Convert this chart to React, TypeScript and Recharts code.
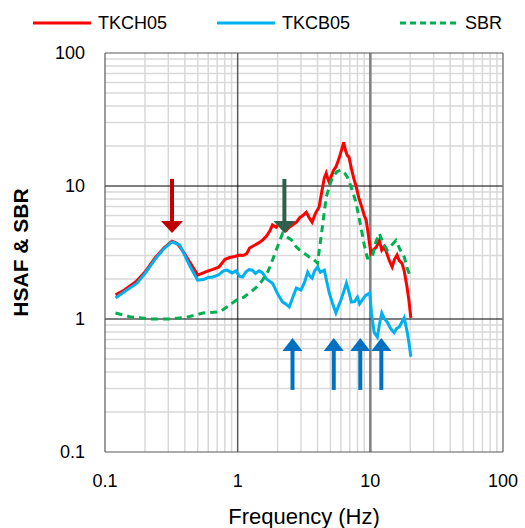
import React from 'react';
import { LineChart, Line, XAxis, YAxis, ReferenceLine, ReferenceDot } from 'recharts';

const tkch05F = [0.12,0.14,0.17,0.2,0.24,0.28,0.32,0.35,0.39,0.44,0.5,0.55,0.6,0.65,0.72,0.8,0.87,0.95,1.03,1.1,1.17,1.23,1.35,1.45,1.54,1.65,1.75,1.83,1.95,2.05,2.18,2.3,2.45,2.6,2.77,2.95,3.1,3.29,3.45,3.64,3.85,4.11,4.3,4.5,4.65,4.8,4.9,5.1,5.3,5.5,5.8,6.1,6.3,6.5,6.7,6.9,7.2,7.5,7.8,8.2,8.6,9.0,9.3,9.6,9.9,10.1,10.5,11.1,11.7,12.2,12.7,13.2,13.8,14.6,15.2,15.9,16.5,17.3,18.0,18.9,19.5,20.2];
const tkch05V = [1.52,1.65,1.9,2.25,2.9,3.45,3.85,3.7,3.2,2.63,2.14,2.22,2.3,2.36,2.45,2.8,2.9,2.95,3.03,3.0,3.1,3.42,3.6,3.75,3.92,4.2,4.6,5.1,4.9,5.2,4.83,4.6,4.9,5.1,5.35,5.8,6.0,6.36,5.8,5.35,6.2,6.94,9,11.5,12.5,11.2,10.7,12.0,13.2,13.9,16,19,21.3,18.5,17,16.5,13.5,11.4,10,8.1,7.0,6.0,5.55,4.5,3.6,3.13,3.3,3.47,3.9,3.3,3.5,3.2,2.8,2.46,2.8,3.03,2.75,2.63,2.3,1.74,1.4,1.02];

const tkcb05F = [0.12,0.14,0.174,0.2,0.246,0.28,0.32,0.366,0.4,0.44,0.5,0.55,0.6,0.65,0.72,0.78,0.83,0.91,0.97,1.03,1.09,1.15,1.22,1.29,1.36,1.45,1.54,1.65,1.83,2.0,2.18,2.3,2.45,2.6,2.77,3.0,3.2,3.37,3.5,3.64,3.8,4.0,4.2,4.5,4.7,4.9,5.2,5.5,5.75,6.0,6.3,6.6,6.9,7.2,7.6,8.0,8.3,8.7,9.2,9.9,10.2,10.7,11.3,11.8,12.2,12.8,13.4,14.2,15.1,15.8,16.5,17.3,18,19,19.6,20.2];
const tkcb05V = [1.44,1.6,1.86,2.2,2.93,3.4,3.8,3.6,3.0,2.46,1.96,1.98,2.05,2.07,2.15,2.3,2.33,2.22,2.3,2.1,2.07,2.25,2.35,2.33,2.2,2.3,2.22,2.0,1.86,1.55,1.34,1.3,1.23,1.45,1.71,1.65,1.9,2.25,2.1,2.03,2.3,2.46,2.25,2.33,1.9,1.57,1.3,1.11,1.25,1.39,1.6,1.86,1.6,1.34,1.35,1.46,1.3,1.39,1.5,1.57,1.1,0.79,0.73,0.95,1.11,1.0,0.95,0.85,0.79,0.85,0.87,0.95,1.02,0.79,0.65,0.52];

const sbrF = [0.12,0.154,0.218,0.31,0.41,0.55,0.73,0.85,0.98,1.1,1.23,1.4,1.54,1.7,1.83,2.0,2.18,2.3,2.55,2.75,2.93,3.2,3.46,3.75,4.0,4.3,4.65,5.0,5.2,5.6,6.0,6.4,6.7,7.0,7.3,7.8,8.5,9.0,9.5,10.3,11.0,11.7,12.5,13.4,14.5,15.6,16.8,18,19,20.2];
const sbrV = [1.11,1.04,1.0,1.0,1.03,1.11,1.13,1.25,1.39,1.45,1.57,1.75,1.96,2.3,2.78,3.5,4.4,4.2,3.92,3.5,3.3,3.1,2.93,2.8,2.63,4.5,8.25,10.5,11.7,12.8,13.2,12.5,11.7,10.5,9.3,7.5,4.9,3.6,2.87,2.87,3.8,4.4,3.7,3.3,3.6,3.9,3.3,2.93,2.4,2.03];

const axisTicks = [0.1, 1, 10, 100];
const minorTicks = [0.2,0.3,0.4,0.5,0.6,0.7,0.8,0.9,2,3,4,5,6,7,8,9,20,30,40,50,60,70,80,90];

// arrows: frequency, tip value, tail value
const downArrowsF = [0.32, 2.25];
const downArrowsTip = [4.43, 4.43];
const downArrowsTail = [11.3, 11.3];
const downArrowColors = ['#C00000', '#2F5F4A'];
const upArrowsF = [2.59, 5.3, 8.4, 12.1];
const upArrowTip = 0.72;
const upArrowTail = 0.293;

const toPts = (f: number[], v: number[]) => f.map((x, i) => ({ f: x, v: v[i] }));
const red = toPts(tkch05F, tkch05V);
const blue = toPts(tkcb05F, tkcb05V);
const green = toPts(sbrF, sbrV);

const FONT = '"Liberation Sans", Arial, sans-serif';

const legendItems = [
  { name: 'TKCH05', color: '#FF0000', dash: false },
  { name: 'TKCB05', color: '#00B0F0', dash: false },
  { name: 'SBR', color: '#00B050', dash: true },
];
const legendLeft = [33, 217, 400];

const LegendBlock = () => (
  <div style={{ position: 'absolute', left: 0, top: 0, width: 525, height: 40, fontFamily: FONT, fontSize: 18, color: '#000' }}>
    {legendItems.map((it, i) => (
      <div key={it.name} style={{ position: 'absolute', left: legendLeft[i], top: 12, display: 'flex', alignItems: 'center', lineHeight: '22px' }}>
        <svg width={60} height={6} style={{ marginRight: 5 }}>
          <line x1={0} y1={3} x2={58} y2={3} stroke={it.color} strokeWidth={3} strokeDasharray={it.dash ? '6 4' : undefined} />
        </svg>
        <span>{it.name}</span>
      </div>
    ))}
  </div>
);

const downHead = (color: string) => (props: any) => {
  const { cx, cy } = props;
  return <path d={`M${cx - 11},${cy - 12} L${cx + 11},${cy - 12} L${cx},${cy} Z`} fill={color} />;
};
const upHead = (props: any) => {
  const { cx, cy } = props;
  return <path d={`M${cx - 10},${cy + 13} L${cx + 10},${cy + 13} L${cx},${cy} Z`} fill="#0070C0" />;
};

export default function App() {
  return (
    <div style={{ position: 'absolute', left: 0, top: 0, width: 525, height: 528, background: '#fff' }}>
      <LineChart width={525} height={528} margin={{ top: 53, right: 22, bottom: 0, left: 5 }}>
        {minorTicks.map((t) => (
          <ReferenceLine key={'vx' + t} x={t} stroke="#D9D9D9" strokeWidth={1.5} />
        ))}
        {minorTicks.map((t) => (
          <ReferenceLine key={'hy' + t} y={t} stroke="#D9D9D9" strokeWidth={1.5} />
        ))}
        <ReferenceLine x={1} stroke="#595959" strokeWidth={1.5} />
        <ReferenceLine x={10} stroke="#7F7F7F" strokeWidth={2.5} />
        <ReferenceLine y={10} stroke="#000" strokeWidth={1.2} />
        <ReferenceLine y={1} stroke="#000" strokeWidth={1.2} />
        <ReferenceLine x={0.1} stroke="#595959" strokeWidth={1.2} />
        <ReferenceLine x={100} stroke="#7F7F7F" strokeWidth={1.5} />
        <ReferenceLine y={100} stroke="#595959" strokeWidth={1.2} />
        <ReferenceLine y={0.1} stroke="#595959" strokeWidth={1.2} />
        <XAxis
          dataKey="f"
          type="number"
          scale="log"
          domain={[0.1, 100]}
          ticks={axisTicks}
          allowDataOverflow
          axisLine={false}
          tickLine={false}
          tickSize={8}
          tickMargin={14}
          height={76}
          tick={{ fontFamily: FONT, fontSize: 18, fill: '#000' }}
          label={{ value: 'Frequency (Hz)', position: 'insideBottom', offset: 4, style: { fontFamily: FONT, fontSize: 22, fill: '#000' } }}
        />
        <YAxis
          dataKey="v"
          type="number"
          scale="log"
          domain={[0.1, 100]}
          ticks={axisTicks}
          allowDataOverflow
          axisLine={false}
          tickLine={false}
          tickSize={8}
          tickMargin={12}
          width={100}
          tick={{ fontFamily: FONT, fontSize: 18, fill: '#000' }}
          label={{ value: 'HSAF & SBR', angle: -90, position: 'insideLeft', offset: 16, style: { fontFamily: FONT, fontSize: 21, fontWeight: 'bold', fill: '#000', textAnchor: 'middle' } }}
        />
        <Line data={red} dataKey="v" name="TKCH05" stroke="#FF0000" strokeWidth={3} dot={false} isAnimationActive={false} />
        <Line data={blue} dataKey="v" name="TKCB05" stroke="#00B0F0" strokeWidth={3} dot={false} isAnimationActive={false} />
        <Line data={green} dataKey="v" name="SBR" stroke="#00B050" strokeWidth={3} strokeDasharray="7 5" dot={false} isAnimationActive={false} />
        {downArrowsF.map((f, i) => (
          <ReferenceLine key={'ds' + i} segment={[{ x: f, y: downArrowsTail[i] }, { x: f, y: downArrowsTip[i] * 1.15 }]} stroke={downArrowColors[i]} strokeWidth={4} />
        ))}
        {downArrowsF.map((f, i) => (
          <ReferenceDot key={'dh' + i} x={f} y={downArrowsTip[i]} shape={downHead(downArrowColors[i])} />
        ))}
        {upArrowsF.map((f, i) => (
          <ReferenceLine key={'us' + i} segment={[{ x: f, y: upArrowTail }, { x: f, y: upArrowTip * 0.85 }]} stroke="#0070C0" strokeWidth={4} />
        ))}
        {upArrowsF.map((f, i) => (
          <ReferenceDot key={'uh' + i} x={f} y={upArrowTip} shape={upHead} />
        ))}
      </LineChart>
      <LegendBlock />
    </div>
  );
}
